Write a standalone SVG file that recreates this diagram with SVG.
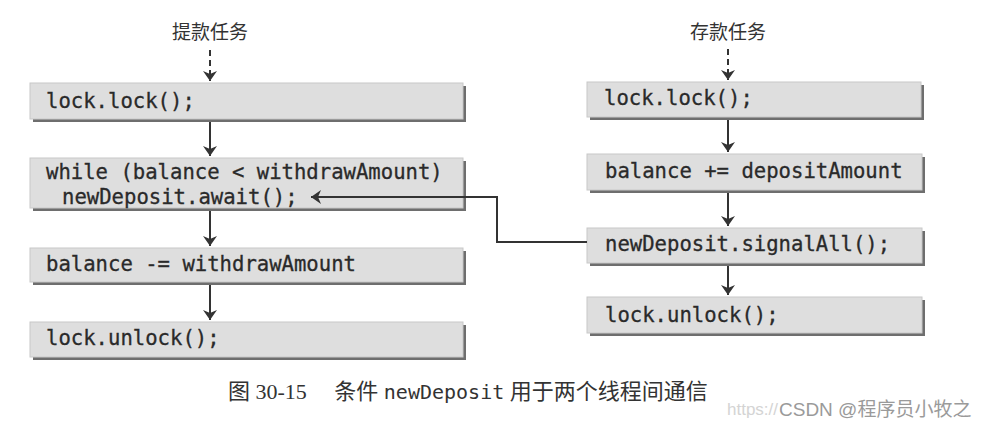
<svg xmlns="http://www.w3.org/2000/svg" width="983" height="426" viewBox="0 0 983 426">
<defs>
<marker id="ah" viewBox="0 0 10 14" refX="10" refY="7" markerWidth="12" markerHeight="14" markerUnits="userSpaceOnUse" orient="auto">
<path d="M0,0 L10,7 L0,14 L3,7 z" fill="#333"/>
</marker>
</defs>
<style>
.box{fill:#dedede;stroke:#c8c8c8;stroke-width:1}
.shadow{fill:#6e6e6e}
.code{font-family:"DejaVu Sans Mono","Liberation Mono",monospace;font-size:20.6px;fill:#2a2a2a;stroke:#2a2a2a;stroke-width:0.3}
.title{font-family:"Noto Sans CJK SC",sans-serif;font-size:19px;fill:#333}
.cap{font-family:"Liberation Serif","Noto Sans CJK SC",serif;font-size:22px;fill:#333}
.line{stroke:#333;stroke-width:2;fill:none}
.dash{stroke:#333;stroke-width:2;fill:none;stroke-dasharray:6 4}
</style>
<rect width="983" height="426" fill="#ffffff"/>

<text class="title" x="210" y="39" text-anchor="middle">提款任务</text>
<text class="title" x="728" y="39" text-anchor="middle">存款任务</text>

<g id="L1"><rect class="shadow" x="33" y="86" width="433" height="36"/><rect class="box" x="30" y="83" width="433" height="36"/><text class="code" x="46" y="108">lock.lock();</text></g>
<g id="L2"><rect class="shadow" x="33" y="161" width="433" height="50"/><rect class="box" x="30" y="158" width="433" height="50"/><text class="code" x="46" y="179">while (balance &lt; withdrawAmount)</text><text class="code" x="62" y="204">newDeposit.await();</text></g>
<g id="L3"><rect class="shadow" x="33" y="251" width="433" height="34"/><rect class="box" x="30" y="248" width="433" height="34"/><text class="code" x="46" y="271">balance -= withdrawAmount</text></g>
<g id="L4"><rect class="shadow" x="33" y="325" width="433" height="35"/><rect class="box" x="30" y="322" width="433" height="35"/><text class="code" x="46" y="345">lock.unlock();</text></g>

<g id="R1"><rect class="shadow" x="590" y="85" width="334" height="35"/><rect class="box" x="587" y="82" width="334" height="35"/><text class="code" x="604" y="105">lock.lock();</text></g>
<g id="R2"><rect class="shadow" x="590" y="157" width="335" height="36"/><rect class="box" x="587" y="154" width="335" height="36"/><text class="code" x="605" y="178">balance += depositAmount</text></g>
<g id="R3"><rect class="shadow" x="590" y="231" width="335" height="35"/><rect class="box" x="587" y="228" width="335" height="35"/><text class="code" x="605" y="251">newDeposit.signalAll();</text></g>
<g id="R4"><rect class="shadow" x="590" y="300" width="335" height="36"/><rect class="box" x="587" y="297" width="335" height="36"/><text class="code" x="605" y="322">lock.unlock();</text></g>

<g id="connectors">
<line class="dash" x1="210" y1="50" x2="210" y2="81" marker-end="url(#ah)"/>
<line class="dash" x1="728" y1="49" x2="728" y2="80" marker-end="url(#ah)"/>
<line class="line" x1="210" y1="122" x2="210" y2="156" marker-end="url(#ah)"/>
<line class="line" x1="210" y1="211" x2="210" y2="246" marker-end="url(#ah)"/>
<line class="line" x1="210" y1="285" x2="210" y2="320" marker-end="url(#ah)"/>
<line class="line" x1="728" y1="120" x2="728" y2="152" marker-end="url(#ah)"/>
<line class="line" x1="728" y1="193" x2="728" y2="226" marker-end="url(#ah)"/>
<line class="line" x1="728" y1="266" x2="728" y2="295" marker-end="url(#ah)"/>
<polyline class="line" points="587,242 497,242 497,197 311,197" marker-end="url(#ah)"/>
</g>

<text class="cap" x="228" y="399">图 30-15　 条件 <tspan font-family="DejaVu Sans Mono,monospace" font-size="20">newDeposit</tspan> 用于两个线程间通信</text>
<text x="727" y="415" font-family="Liberation Sans,sans-serif" font-size="17" fill="#d4d4d4">https://</text>
<text x="779" y="416" font-family="Liberation Sans,Noto Sans CJK SC,sans-serif" font-size="19" fill="#9a9a9a">CSDN @程序员小牧之</text>
</svg>
